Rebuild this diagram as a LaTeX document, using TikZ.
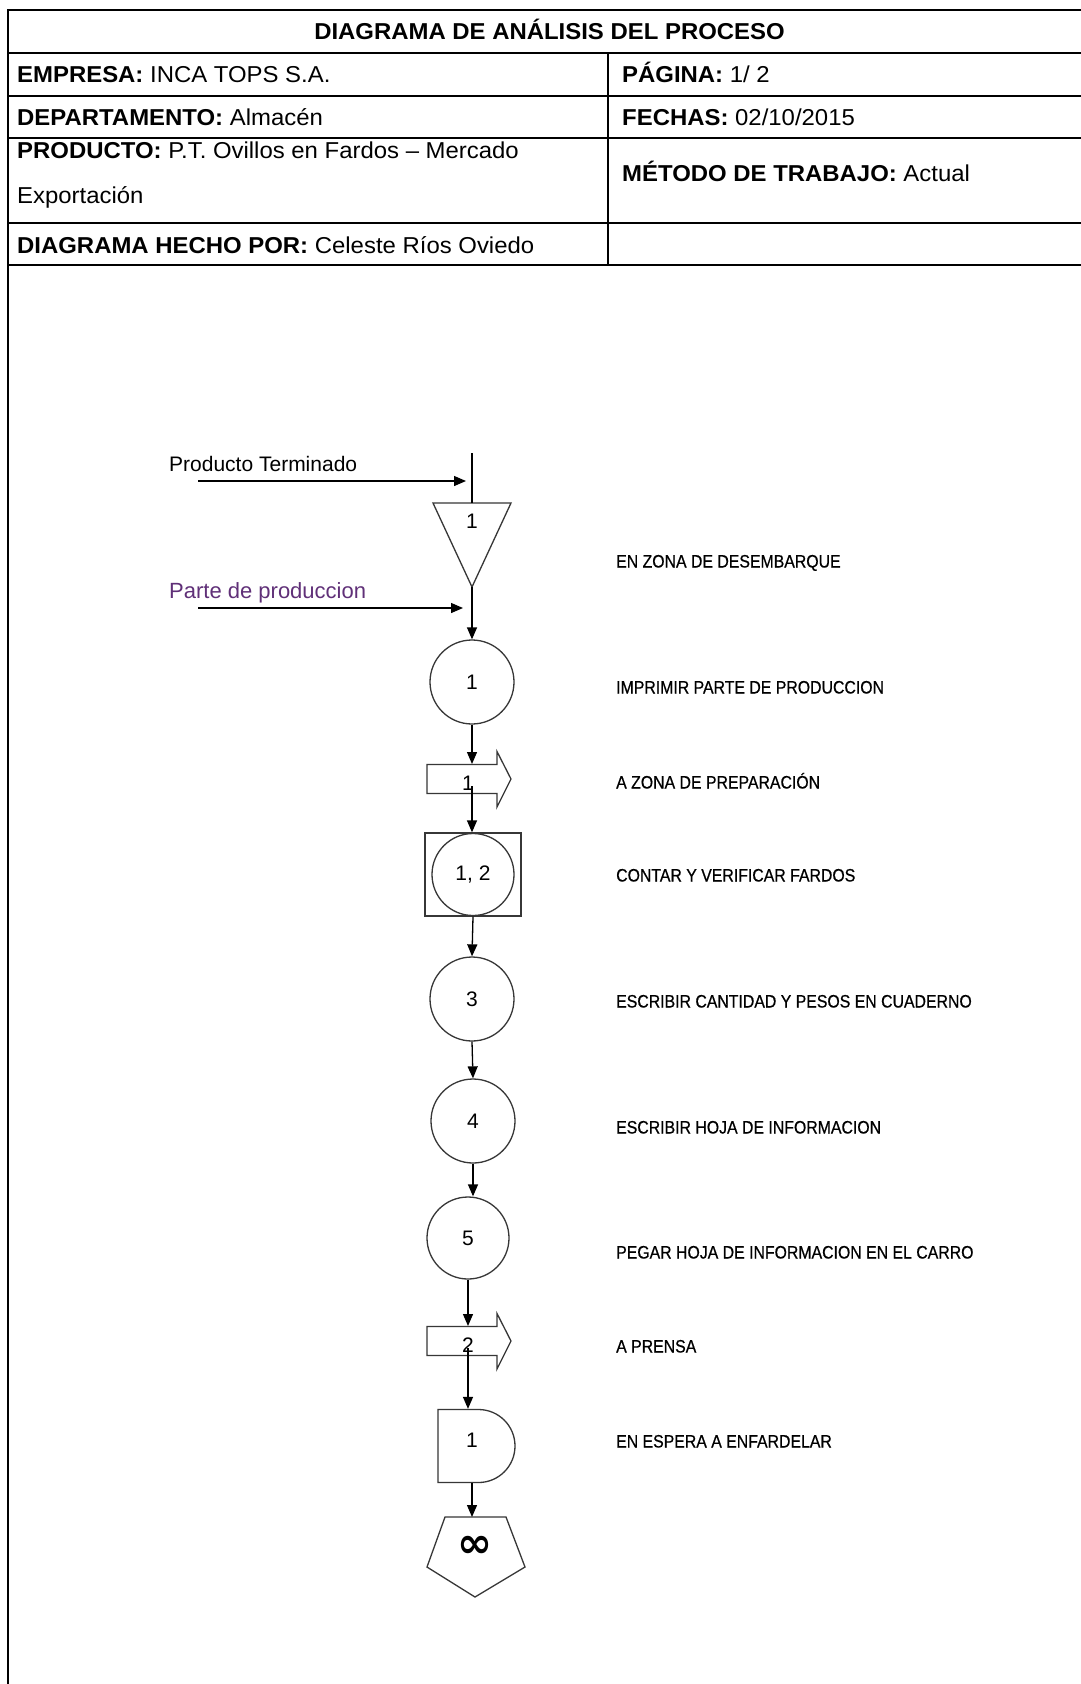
\documentclass[tikz,border=0pt]{standalone}
\usepackage{amsmath}
\usepackage{fontspec}
\setmainfont{Liberation Sans}
\newfontfamily\tablafont[FakeStretch=1.04]{Liberation Sans}
\newfontfamily\descfont[FakeStretch=0.88, FakeBold=0.6]{Liberation Sans}
\newfontfamily\simbfont{DejaVu Sans}
\usepackage{tikz}
\usetikzlibrary{arrows.meta, positioning, shapes.geometric, shapes.misc, calc}
\definecolor{moradoparte}{RGB}{96,48,120}
\definecolor{grisdiag}{RGB}{55,55,55}
\newcommand{\flechabloque}[1]{%
  \draw[linea] ($(#1.west)+(0,-14.5)$) -- ++(70,0) -- ++(0,-13) -- (#1.east)
    -- ++(-14,28) -- ++(0,-13.5) -- ++(-70,0) -- cycle;
  \coordinate (#1-top) at ($(#1.north)+(0,13)$);
  \coordinate (#1-mid) at ($(#1.center)+(0,7)$);
}

\begin{document}
\begin{tikzpicture}[x=1pt, y=-1pt,
    tabla/.style={line width=2pt},
    celda/.style={anchor=base west, inner sep=0pt,
                  font=\tablafont\fontsize{23}{27}\selectfont},
    desc/.style={anchor=base west, inner sep=0pt, text=black,
                 font=\descfont\fontsize{18}{20}\selectfont},
    num/.style={inner sep=0pt, font=\fontsize{21}{24}\selectfont},
    oper/.style={circle, draw=grisdiag, line width=1.3pt, minimum size=84pt,
                 inner sep=0pt, font=\fontsize{21}{24}\selectfont},
    caja/.style={inner sep=0pt, outer sep=0pt},
    linea/.style={draw=grisdiag, line width=1.3pt},
    flecha/.style={draw=black, line width=1.3pt,
                   -{Triangle[length=12pt, width=10pt]}}]

  \fill[white] (0,0) rectangle (1081,1684);
  \useasboundingbox (0,0) rectangle (1081,1684);
  \clip (0,0) rectangle (1081,1684);

  % cuadro de cabecera
  \foreach \y in {10,53,96,138,223,265}
    \draw[tabla] (7.5,\y) -- (1081,\y);
  \draw[tabla] (7.5,9) -- (7.5,1684);
  \draw[tabla] (608,53) -- (608,265);

  \node[celda, anchor=base] (titulo) at (549.5,39)
        {\textbf{DIAGRAMA DE ANÁLISIS DEL PROCESO}};
  \node[celda] (empresa) at (17,82) {\textbf{EMPRESA:} INCA TOPS S.A.};
  \node[celda] (pagina) at (622,82) {\textbf{PÁGINA:} 1/ 2};
  \node[celda] (depto) at (17,125) {\textbf{DEPARTAMENTO:} Almacén};
  \node[celda] (fechas) at (622,125) {\textbf{FECHAS:} 02/10/2015};
  \node[celda] (producto) at (17,158)
        {\textbf{PRODUCTO:} P.T. Ovillos en Fardos – Mercado};
  \node[celda] (producto2) at (17,203) {Exportación};
  \node[celda] (metodo) at (622,181) {\textbf{MÉTODO DE TRABAJO:} Actual};
  \node[celda] (autor) at (17,253)
        {\textbf{DIAGRAMA HECHO POR:} Celeste Ríos Oviedo};

  % entradas
  \node[anchor=base west, inner sep=0pt, font=\fontsize{21}{24}\selectfont]
        (ptt) at (169,471) {Producto Terminado};
  \node[anchor=base west, inner sep=0pt, text=moradoparte,
        font=\fontsize{22}{26}\selectfont] (ppt) at (169,598) {Parte de produccion};
  \coordinate (ent) at (472,453);
  \coordinate (pt0) at (198,481);
  \coordinate (pt1) at (466,481);
  \coordinate (pp0) at (198,608);
  \coordinate (pp1) at (463,608);

  % simbolos
  \node[caja, minimum width=78pt, minimum height=84pt] (alm) at (472,545) {};
  \draw[linea] (alm.north west) -- (alm.north east) -- (alm.south) -- cycle;
  \node[num] (alm-n) at (472,521) {1};

  \node[oper] (op1) at (472,682) {1};

  \node[caja, minimum width=84pt, minimum height=56pt] (tr1) at (469,779) {};
  \flechabloque{tr1}
  \node[num] (tr1-n) at (468,783) {1};

  \node[draw=grisdiag, line width=1.3pt, minimum width=96pt, minimum height=83pt,
        inner sep=0pt] (insp) at (473,874.5) {};
  \node[oper, minimum size=82pt] (op2) at (insp) {1, 2};

  \node[oper] (op3) at (472,999) {3};
  \node[oper] (op4) at (473,1121) {4};
  \node[oper, minimum size=82pt] (op5) at (468,1238) {5};

  \node[caja, minimum width=84pt, minimum height=56pt] (tr2) at (469,1341) {};
  \flechabloque{tr2}
  \node[num] (tr2-n) at (468,1345) {2};

  \node[rounded rectangle, rounded rectangle left arc=none, draw=grisdiag,
        line width=1.3pt, minimum width=77pt, minimum height=73pt,
        inner sep=0pt] (esp) at (476.5,1446) {};
  \node[num] (esp-n) at (472,1440) {1};

  \node[caja, minimum width=98pt, minimum height=80pt] (fin) at (476,1557) {};
  \draw[linea] ($(fin.north)+(-31,0)$) -- ++(61,0) -- ++(19,50) -- ++(-50,30)
    -- ++(-48,-30) -- cycle;
  \node[inner sep=0pt, font=\simbfont\bfseries\fontsize{42}{44}\selectfont]
        (fin-n) at (475,1547) {∞};

  % descripciones
  \foreach \t/\y [count=\i] in {EN ZONA DE DESEMBARQUE/567.5,
      IMPRIMIR PARTE DE PRODUCCION/693.5, A ZONA DE PREPARACIÓN/788.5,
      CONTAR Y VERIFICAR FARDOS/881.5, ESCRIBIR CANTIDAD Y PESOS EN CUADERNO/1007.5,
      ESCRIBIR HOJA DE INFORMACION/1133.5, PEGAR HOJA DE INFORMACION EN EL CARRO/1258.5,
      A PRENSA/1352.5, EN ESPERA A ENFARDELAR/1447.5}
    \node[desc] (d\i) at (616,\y) {\t};

  % conectores
  \draw[line width=1.3pt] (ent) -- (ent |- alm.north);
  \draw[flecha] (pt0) -- (pt1);
  \draw[flecha] (pp0) -- (pp1);
  \draw[flecha] (alm.south) -- (op1.north);
  \draw[flecha] (op1.south) -- (op1.south |- tr1-top);
  \draw[flecha] (op1.south |- tr1-mid) -- (op1.south |- insp.north);
  \draw[flecha] (insp.south) -- (op3.north);
  \draw[flecha] (op3.south) -- (op4.north);
  \draw[flecha] (op4.south) -- (op4.south |- op5.north);
  \draw[flecha] (op5.south) -- (op5.south |- tr2-top);
  \draw[flecha] (op5.south |- tr2-mid) -- (op5.south |- esp.north);
  \draw[flecha] (esp-n |- esp.south) -- (esp-n |- fin.north);
\end{tikzpicture}
\end{document}
